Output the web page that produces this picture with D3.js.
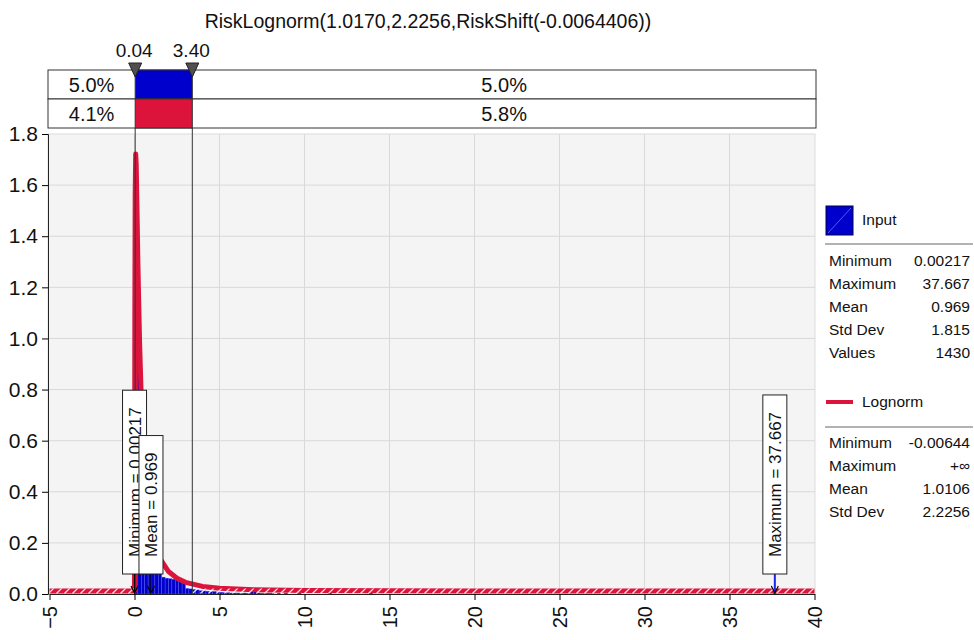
<!DOCTYPE html>
<html>
<head>
<meta charset="utf-8">
<script src="https://cdn.jsdelivr.net/npm/d3@7"></script>
<style>
  body { margin: 0; background: #fff; }
  text { font-family: "Liberation Sans", Arial, sans-serif; fill: #111; }
</style>
</head>
<body>
<script>
// Données
const title = "RiskLognorm(1.0170,2.2256,RiskShift(-0.0064406))";

const delims = [0.04, 3.40];
const delimLabels = ["0.04", "3.40"];
const inputPct = ["5.0%", "5.0%"];
const fitPct = ["4.1%", "5.8%"];

// Histogramme (largeur de classe 0.2, à partir de 0)
const binWidth = 0.2;
const histDensity = [
  1.40, 0.98, 0.61, 0.41, 0.29, 0.21, 0.16, 0.12, 0.066, 0.062,
  0.060, 0.058, 0.056, 0.055, 0.052, 0.022, 0.020, 0.018, 0.016, 0.013,
  0.012, 0.011, 0.009, 0.010, 0.008, 0.007, 0.006, 0.005, 0.004, 0.004,
  0.004, 0.003, 0.004, 0.003, 0.022, 0.020, 0.004, 0.003, 0.003, 0.0035,
  0.0035, 0, 0.0035, 0, 0.0035
];
const tailLeft = [9.6, 11.4, 13.8, 37.6];
const tailDensity = [0.0035, 0.0035, 0.0035, 0.0035];

// Courbe Lognorm ajustée
const curveX = [-5, -0.0064, 0, 0.005, 0.01, 0.02, 0.04, 0.07, 0.1, 0.15, 0.2, 0.3, 0.4, 0.5, 0.7,
  1.0, 1.5, 2, 2.5, 3, 4, 5, 7, 10, 15, 20, 30, 40];
const curveY = [0, 0, 0.05, 0.22, 0.56, 1.06, 1.55, 1.71, 1.67, 1.48, 1.28, 0.97, 0.75, 0.60, 0.40,
  0.245, 0.127, 0.076, 0.050, 0.034, 0.018, 0.011, 0.0046, 0.0017, 0.0006, 0.00025, 0.00006, 0.00002];

// Marqueurs
const markerLabels = ["Minimum = 0.00217", "Mean = 0.969", "Maximum = 37.667"];
const markerValues = [0.00217, 0.969, 37.667];

// Légende
const inputStatLabels = ["Minimum", "Maximum", "Mean", "Std Dev", "Values"];
const inputStatValues = ["0.00217", "37.667", "0.969", "1.815", "1430"];
const fitStatLabels = ["Minimum", "Maximum", "Mean", "Std Dev"];
const fitStatValues = ["-0.00644", "+\u221E", "1.0106", "2.2256"];

const blue = "#0000cc";
const red = "#dc143c";

const W = 974, H = 640;
const plot = { left: 48, right: 815, top: 134, bottom: 594 };

const svg = d3.select("body").append("svg")
    .attr("width", W)
    .attr("height", H);

const x = d3.scaleLinear().domain([-5, 40]).range([49.5, 814.5]);
const y = d3.scaleLinear().domain([0, 1.8]).range([plot.bottom, plot.top]);

const defs = svg.append("defs");
defs.append("clipPath").attr("id", "clip")
  .append("rect")
    .attr("x", plot.left).attr("y", plot.top - 30)
    .attr("width", plot.right - plot.left).attr("height", plot.bottom - plot.top + 30);

const hatch = defs.append("pattern")
    .attr("id", "hatch")
    .attr("patternUnits", "userSpaceOnUse")
    .attr("width", 8).attr("height", 6);
hatch.append("line")
    .attr("x1", 0).attr("y1", 6).attr("x2", 6).attr("y2", 0)
    .attr("stroke", "#fff").attr("stroke-width", 1.3).attr("opacity", 0.85);

// Titre
svg.append("text")
    .attr("x", 428).attr("y", 28)
    .attr("text-anchor", "middle")
    .style("font-size", "19.5px")
    .text(title);

// Fond de la zone de tracé
svg.append("rect")
    .attr("x", plot.left).attr("y", plot.top)
    .attr("width", plot.right - plot.left).attr("height", plot.bottom - plot.top)
    .attr("fill", "#f4f4f4")
    .attr("stroke", "#dcdcdc");

// Grille
const xTicks = d3.range(-5, 41, 5);
const yTicks = d3.range(0, 1.81, 0.2);
svg.append("g").selectAll("line")
  .data(xTicks.slice(1, -1))
  .enter().append("line")
    .attr("x1", d => x(d)).attr("x2", d => x(d))
    .attr("y1", plot.top).attr("y2", plot.bottom)
    .attr("stroke", "#d9d9d9");
svg.append("g").selectAll("line")
  .data(yTicks.slice(1, -1))
  .enter().append("line")
    .attr("x1", plot.left).attr("x2", plot.right)
    .attr("y1", d => y(d)).attr("y2", d => y(d))
    .attr("stroke", "#d9d9d9");

const chart = svg.append("g").attr("clip-path", "url(#clip)");

// Barres de l'histogramme
const bins = histDensity.map((d, i) => ({ x0: i * binWidth, x1: (i + 1) * binWidth, v: d }))
  .concat(tailLeft.map((d, i) => ({ x0: d, x1: d + binWidth, v: tailDensity[i] })))
  .filter(d => d.v > 0);

chart.selectAll("rect.bar")
  .data(bins)
  .enter().append("rect")
    .attr("class", "bar")
    .attr("x", d => x(d.x0))
    .attr("width", d => x(d.x1) - x(d.x0))
    .attr("y", d => y(d.v))
    .attr("height", d => y(0) - y(d.v))
    .attr("fill", blue)
    .attr("stroke", "#5c5cf0")
    .attr("stroke-width", 0.4);

// Courbe ajustée
const curve = curveX.map((d, i) => [d, curveY[i]]);
chart.append("path")
    .datum(curve)
    .attr("transform", "translate(0,-3)")
    .attr("fill", "none")
    .attr("stroke", red)
    .attr("stroke-width", 5)
    .attr("stroke-linejoin", "round")
    .attr("d", d3.line().x(d => x(d[0])).y(d => y(d[1])));

// Hachures sur la bande rouge
[[-5, 0], [delims[1], 40]].forEach(r => {
  chart.append("rect")
      .attr("x", x(r[0])).attr("y", plot.bottom - 5.5)
      .attr("width", x(r[1]) - x(r[0])).attr("height", 5)
      .attr("fill", "url(#hatch)");
});

// Axes
const yAxis = svg.append("g")
    .attr("transform", `translate(${plot.left},0)`)
    .call(d3.axisLeft(y).tickValues(yTicks).tickFormat(d3.format(".1f")).tickSize(6).tickPadding(4));
yAxis.selectAll("text").style("font-size", "21px");
yAxis.select(".domain").attr("stroke", "#222");

const xAxis = svg.append("g")
    .attr("transform", `translate(0,${plot.bottom})`)
    .call(d3.axisBottom(x).tickValues(xTicks).tickFormat(d3.format("d")).tickSize(6).tickSizeOuter(0));
xAxis.selectAll("text")
    .attr("transform", "rotate(-90)")
    .attr("x", -12)
    .attr("y", 0)
    .attr("dy", "0.35em")
    .style("text-anchor", "end")
    .style("font-size", "20px");
xAxis.select(".domain").attr("stroke", "#222");

// Lignes de délimitation
svg.append("g").selectAll("line")
  .data(delims)
  .enter().append("line")
    .attr("x1", d => x(d)).attr("x2", d => x(d))
    .attr("y1", 64).attr("y2", plot.bottom)
    .attr("stroke", "#333")
    .attr("stroke-width", 1);

// Bandeau des pourcentages
const cellEdges = [plot.left, x(delims[0]), x(delims[1]), plot.right + 1];
const rows = [
  { y: 70, fill: blue, texts: inputPct },
  { y: 99, fill: red, texts: fitPct }
];
const rowH = 29;
rows.forEach(r => {
  svg.append("rect")
      .attr("x", cellEdges[0]).attr("y", r.y)
      .attr("width", cellEdges[3] - cellEdges[0]).attr("height", rowH)
      .attr("fill", "#fff").attr("stroke", "#333");
  svg.append("rect")
      .attr("x", cellEdges[1]).attr("y", r.y)
      .attr("width", cellEdges[2] - cellEdges[1]).attr("height", rowH)
      .attr("fill", r.fill).attr("stroke", "#333");
  [0, 2].forEach((c, i) => {
    svg.append("text")
        .attr("x", (cellEdges[c] + cellEdges[c + 1]) / 2)
        .attr("y", r.y + rowH / 2)
        .attr("dy", "0.35em")
        .attr("text-anchor", "middle")
        .style("font-size", "20px")
        .text(r.texts[i]);
  });
});

// Triangles et étiquettes des délimiteurs
svg.append("g").selectAll("path")
  .data(delims)
  .enter().append("path")
    .attr("d", d => `M${x(d) - 6.5},63 L${x(d) + 6.5},63 L${x(d)},77 Z`)
    .attr("fill", "#505050")
    .attr("stroke", "#222");
svg.append("g").selectAll("text")
  .data(delimLabels)
  .enter().append("text")
    .attr("x", (d, i) => x(delims[i]) - 1)
    .attr("y", 50)
    .attr("dy", "0.35em")
    .attr("text-anchor", "middle")
    .style("font-size", "19px")
    .text(d => d);

// Marqueurs Minimum / Mean / Maximum
const boxBottom = 574;
markerValues.forEach((v, i) => {
  const cx = x(v);
  const g = svg.append("g");
  // flèche
  g.append("line")
      .attr("x1", cx).attr("x2", cx)
      .attr("y1", boxBottom).attr("y2", plot.bottom - 2)
      .attr("stroke", i === 2 ? "#2222ee" : "#000")
      .attr("stroke-width", i === 2 ? 2 : 1.2);
  g.append("path")
      .attr("d", `M${cx - 3.5},${plot.bottom - 8} L${cx},${plot.bottom - 1} L${cx + 3.5},${plot.bottom - 8}`)
      .attr("fill", "none")
      .attr("stroke", "#000")
      .attr("stroke-width", 1.2);
  const box = g.append("rect").attr("fill", "#fff").attr("stroke", "#222");
  const t = g.append("text")
      .attr("transform", `translate(${cx},${boxBottom}) rotate(-90)`)
      .attr("dy", "0.36em")
      .style("font-size", "17px")
      .text(markerLabels[i]);
  const len = t.node().getComputedTextLength();
  const h = len + 34;
  box.attr("x", cx - 12).attr("y", boxBottom - h).attr("width", 24).attr("height", h);
  t.attr("x", h / 2).attr("text-anchor", "middle");
});

// Légende
const lx = 826;
svg.append("rect")
    .attr("x", lx).attr("y", 206).attr("width", 27).attr("height", 29)
    .attr("fill", blue).attr("stroke", "#000050");
svg.append("line")
    .attr("x1", lx + 2).attr("y1", 233).attr("x2", lx + 25).attr("y2", 208)
    .attr("stroke", "#7070ff").attr("stroke-width", 0.8);
svg.append("text")
    .attr("x", 862).attr("y", 220).attr("dy", "0.35em")
    .style("font-size", "15.5px").text("Input");
svg.append("line")
    .attr("x1", 825).attr("x2", 973).attr("y1", 244).attr("y2", 244)
    .attr("stroke", "#999").attr("stroke-width", 1.5);

svg.append("line")
    .attr("x1", lx).attr("x2", lx + 27).attr("y1", 402).attr("y2", 402)
    .attr("stroke", red).attr("stroke-width", 4);
svg.append("text")
    .attr("x", 862).attr("y", 402).attr("dy", "0.35em")
    .style("font-size", "15.5px").text("Lognorm");
svg.append("line")
    .attr("x1", 825).attr("x2", 973).attr("y1", 427).attr("y2", 427)
    .attr("stroke", "#999").attr("stroke-width", 1.5);

function statRows(labels, values, y0) {
  const g = svg.append("g");
  labels.forEach((l, i) => {
    g.append("text")
        .attr("x", 829).attr("y", y0 + i * 23).attr("dy", "0.35em")
        .style("font-size", "15.5px").text(l);
    g.append("text")
        .attr("x", 970).attr("y", y0 + i * 23).attr("dy", "0.35em")
        .attr("text-anchor", "end")
        .style("font-size", "15.5px").text(values[i]);
  });
}
statRows(inputStatLabels, inputStatValues, 261);
statRows(fitStatLabels, fitStatValues, 443);
</script>
</body>
</html>
